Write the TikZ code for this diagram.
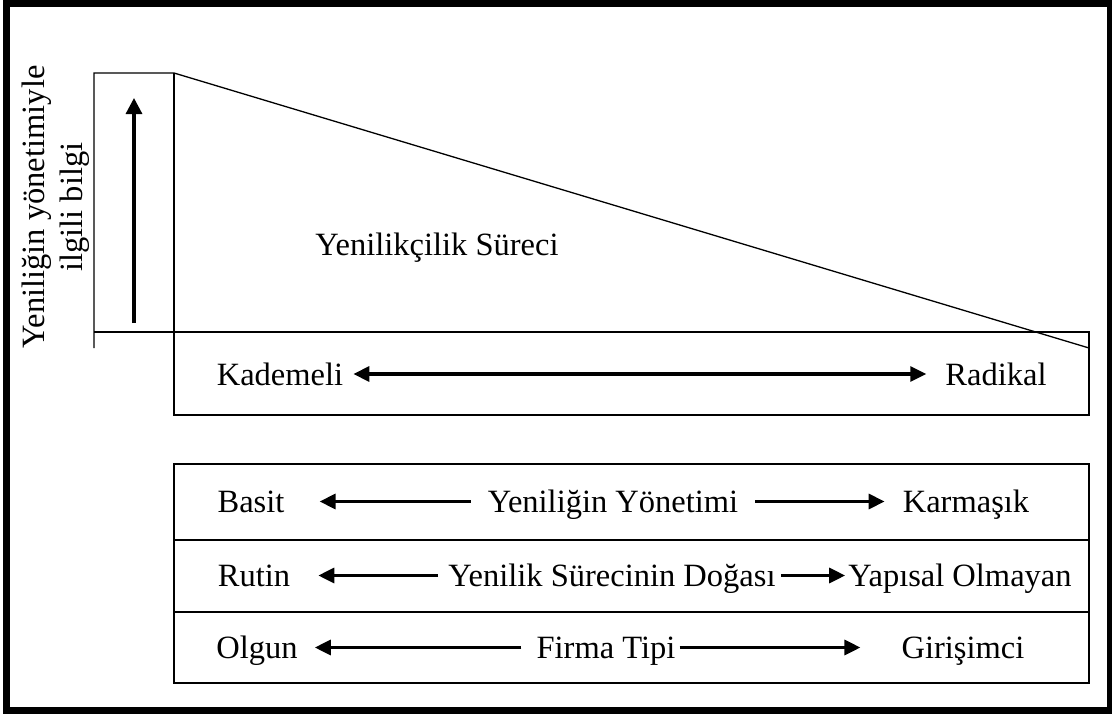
\documentclass[tikz,border=0pt]{standalone}
\usepackage{fontspec}
\setmainfont{Liberation Serif}
\usetikzlibrary{arrows.meta}
\begin{document}
\begin{tikzpicture}[x=1pt,y=-1pt,
  txt/.style={font=\fontsize{32.5}{38}\selectfont, inner sep=0pt, anchor=base},
  thinline/.style={line width=1.3pt},
  arr/.style={line width=3.2pt, -{Triangle[length=16pt,width=15pt]}},
  darr/.style={line width=3.2pt, {Triangle[length=16pt,width=15pt]}-{Triangle[length=16pt,width=15pt]}}]
\useasboundingbox (0,0) rectangle (1112,717);
\fill[white] (0,0) rectangle (1112,717);
\draw[line width=7pt] (6.5,3.5) rectangle (1110.5,710.5);
% upper structure
\draw[thinline] (94,348) -- (94,73) -- (174,73) -- (1089,348);
\draw[thinline] (94,332) -- (1089,332) -- (1089,415) -- (174,415) -- (174,73);
% lower box
\draw[thinline] (174,464) rectangle (1089,683);
\draw[thinline] (174,540) -- (1089,540);
\draw[thinline] (174,612) -- (1089,612);
% vertical arrow and label
\coordinate (ub) at (134,323);
\coordinate (ut) at (134,98);
\draw[line width=3.2pt, -{Triangle[length=16pt,width=16pt]}] (ub) -- (ut);
\node[font=\fontsize{32.5}{38}\selectfont, align=center, rotate=90, inner sep=0pt] (vt) at (56,207) {Yeniliğin yönetimiyle\\ilgili bilgi};
% texts
\node[txt] (ys) at (437,255) {Yenilikçilik Süreci};
\node[txt] (kad) at (280,385) {Kademeli};
\node[txt] (rad) at (996,385) {Radikal};
\draw[darr, shorten <=10pt, shorten >=19pt] ([yshift=11pt]kad.base east) -- ([yshift=11pt]rad.base west);
% row 1
\node[txt] (basit) at (251,512) {Basit};
\node[txt] (yy) at (613,512) {Yeniliğin Yönetimi};
\node[txt] (karm) at (966,512) {Karmaşık};
\draw[arr, shorten <=17pt, shorten >=35pt] ([yshift=10.5pt]yy.base west) -- ([yshift=10.5pt]basit.base east);
\draw[arr, shorten <=17pt, shorten >=18pt] ([yshift=10.5pt]yy.base east) -- ([yshift=10.5pt]karm.base west);
% row 2
\node[txt] (rutin) at (254,586) {Rutin};
\node[txt] (ysd) at (612,586) {Yenilik Sürecinin Doğası};
\node[txt] (yap) at (960,586) {Yapısal Olmayan};
\draw[arr, shorten <=10pt, shorten >=28pt] ([yshift=10.5pt]ysd.base west) -- ([yshift=10.5pt]rutin.base east);
\draw[arr, shorten <=5pt, shorten >=3pt] ([yshift=10.5pt]ysd.base east) -- ([yshift=10.5pt]yap.base west);
% row 3
\node[txt] (olgun) at (257,658) {Olgun};
\node[txt] (firma) at (606,658) {Firma Tipi};
\node[txt] (giri) at (963,658) {Girişimci};
\draw[arr, shorten <=15pt, shorten >=17pt] ([yshift=10.5pt]firma.base west) -- ([yshift=10.5pt]olgun.base east);
\draw[arr, shorten <=4pt, shorten >=41pt] ([yshift=10.5pt]firma.base east) -- ([yshift=10.5pt]giri.base west);
\end{tikzpicture}
\end{document}
